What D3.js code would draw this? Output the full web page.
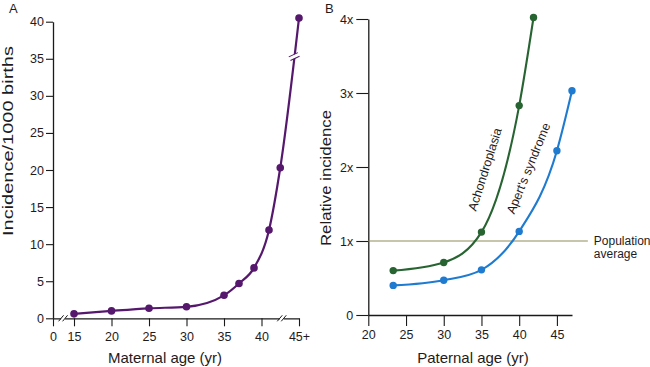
<!doctype html>
<html>
<head>
<meta charset="utf-8">
<script src="https://cdn.jsdelivr.net/npm/d3@7"></script>
<style>
  html, body { margin: 0; padding: 0; background: #fff; }
  svg { display: block; }
</style>
</head>
<body>
<script>
// Panel A: maternal age vs incidence / 1000 births
const maternalAges = [15, 20, 25, 30, 35, 37, 39, 41, 42.5, 45];
const maternalIncidence = [0.6, 1.0, 1.35, 1.55, 3.1, 4.7, 6.8, 11.9, 20.3, 40.5];
const maternalXTicks = [0, 15, 20, 25, 30, 35, 40, 45];
const maternalYTicks = [0, 5, 10, 15, 20, 25, 30, 35, 40];

// Panel B: paternal age vs relative incidence
const achondroplasiaAges = [23.3, 30, 35, 40, 41.9];
const achondroplasiaValues = [0.6, 0.71, 1.12, 2.83, 4.02];
const apertAges = [23.3, 30, 35, 40, 45, 47];
const apertValues = [0.4, 0.47, 0.61, 1.13, 2.22, 3.03];
const paternalXTicks = [20, 25, 30, 35, 40, 45];
const paternalYTicks = [0, 1, 2, 3, 4];
const populationAverage = 1;

const W = 650, H = 367;
const FONT = '"Liberation Sans", Arial, Helvetica, sans-serif';
const TEXT = "#1f1b1c";
const AXIS = "#1a1a1a";
const PURPLE = "#55186d";
const GREEN = "#276432";
const BLUE = "#1e7bd0";
const POP = "#8f8b58";

const svg = d3.select("body").append("svg")
  .attr("width", W)
  .attr("height", H)
  .style("font-family", FONT);

svg.append("rect").attr("width", W).attr("height", H).attr("fill", "#fff");

function styleAxis(g) {
  g.select(".domain").attr("stroke", AXIS).attr("stroke-width", 1.3);
  g.selectAll(".tick line").attr("stroke", AXIS).attr("stroke-width", 1.1);
  g.selectAll(".tick text").attr("fill", TEXT).attr("font-size", 12.5).attr("font-family", FONT);
}

// ---------- Panel A ----------
// 0 sits close to 15 (axis break), 45 stands for "45+"
const xA = d3.scaleLinear().domain([0, 15, 45]).range([53, 74, 299]);
const yA = d3.scaleLinear().domain([0, 40]).range([318.3, 21.7]);

const gA = svg.append("g");

gA.append("g")
  .attr("transform", `translate(${xA(0)},0)`)
  .call(d3.axisLeft(yA).tickValues(maternalYTicks).tickSize(7).tickPadding(2).tickSizeOuter(0))
  .call(styleAxis);

gA.append("g")
  .attr("transform", `translate(0,${yA(0)})`)
  .call(d3.axisBottom(xA).tickValues(maternalXTicks).tickSize(8).tickPadding(6).tickSizeOuter(0)
    .tickFormat((d) => (d === 45 ? "45+" : d)))
  .call(styleAxis);

// "//" marks on the x axis
const xBreaksA = [7.2, 42.7];
xBreaksA.forEach((v) => {
  const bx = xA(v), by = yA(0);
  gA.append("rect").attr("x", bx - 2).attr("y", by - 3).attr("width", 4).attr("height", 6).attr("fill", "#fff");
  [-2, 2].forEach((o) => {
    gA.append("line")
      .attr("x1", bx + o - 2.5).attr("y1", by + 3)
      .attr("x2", bx + o + 2.5).attr("y2", by - 3)
      .attr("stroke", AXIS).attr("stroke-width", 1);
  });
});

const dataA = maternalAges.map((a, i) => ({ x: a, y: maternalIncidence[i] }));

gA.append("path")
  .datum(dataA)
  .attr("fill", "none")
  .attr("stroke", PURPLE)
  .attr("stroke-width", 2.2)
  .attr("d", d3.line().x((d) => xA(d.x)).y((d) => yA(d.y)).curve(d3.curveMonotoneX));

// break on the curve near 35
{
  const p0 = dataA[dataA.length - 2], p1 = dataA[dataA.length - 1];
  const by = yA(35.3);
  const t = (yA(p0.y) - by) / (yA(p0.y) - yA(p1.y));
  const bx = xA(p0.x) + t * (xA(p1.x) - xA(p0.x));
  const gb = gA.append("g").attr("transform", `translate(${bx},${by}) rotate(-25)`);
  gb.append("rect").attr("x", -5).attr("y", -1.8).attr("width", 10).attr("height", 3.6).attr("fill", "#fff");
  [-2, 2].forEach((o) => {
    gb.append("line").attr("x1", -5).attr("x2", 5).attr("y1", o).attr("y2", o)
      .attr("stroke", PURPLE).attr("stroke-width", 1);
  });
}

gA.selectAll("circle")
  .data(dataA)
  .join("circle")
  .attr("cx", (d) => xA(d.x))
  .attr("cy", (d) => yA(d.y))
  .attr("r", 3.8)
  .attr("fill", PURPLE);

gA.append("text")
  .attr("x", 9).attr("y", 13)
  .attr("font-size", 13).attr("fill", TEXT)
  .text("A");

gA.append("text")
  .attr("transform", "translate(13,141) rotate(-90)")
  .attr("text-anchor", "middle")
  .attr("font-size", 15)
  .attr("textLength", 190)
  .attr("lengthAdjust", "spacingAndGlyphs")
  .attr("fill", TEXT)
  .text("Incidence/1000 births");

gA.append("text")
  .attr("x", 165).attr("y", 363)
  .attr("text-anchor", "middle")
  .attr("font-size", 15).attr("fill", TEXT)
  .text("Maternal age (yr)");

// ---------- Panel B ----------
const xB = d3.scaleLinear().domain([20, 47]).range([368.3, 572]);
const yB = d3.scaleLinear().domain([0, 4]).range([315, 19]);

const gB = svg.append("g");

gB.append("g")
  .attr("transform", `translate(${xB(20)},0)`)
  .call(d3.axisLeft(yB).tickValues(paternalYTicks).tickSize(12).tickPadding(3).tickSizeOuter(0)
    .tickFormat((d) => (d === 0 ? "0" : `${d}x`)))
  .call(styleAxis);

gB.append("g")
  .attr("transform", `translate(0,${yB(0)})`)
  .call(d3.axisBottom(xB).tickValues(paternalXTicks).tickSize(11).tickPadding(4).tickSizeOuter(0))
  .call(styleAxis);

// population average reference line
gB.append("line")
  .attr("x1", xB(20)).attr("x2", xB(49.1))
  .attr("y1", yB(populationAverage)).attr("y2", yB(populationAverage))
  .attr("stroke", POP).attr("stroke-width", 1.2);

gB.append("text")
  .attr("x", xB(49.1) + 6).attr("y", yB(populationAverage) + 4)
  .attr("font-size", 12).attr("fill", TEXT)
  .call((t) => {
    t.append("tspan").text("Population");
    t.append("tspan").attr("x", xB(49.1) + 6).attr("dy", 13).text("average");
  });

const seriesB = [
  { name: "Achondroplasia", color: GREEN, ages: achondroplasiaAges, values: achondroplasiaValues,
    label: { x: 484.8, y: 169.4, rot: -72.5 } },
  { name: "Apert's syndrome", color: BLUE, ages: apertAges, values: apertValues,
    label: { x: 528.3, y: 168.3, rot: -68 } },
];

const lineB = d3.line().x((d) => xB(d.x)).y((d) => yB(d.y)).curve(d3.curveMonotoneX);

seriesB.forEach((s) => {
  const pts = s.ages.map((a, i) => ({ x: a, y: s.values[i] }));
  gB.append("path")
    .datum(pts)
    .attr("fill", "none")
    .attr("stroke", s.color)
    .attr("stroke-width", 2.1)
    .attr("d", lineB);

  gB.append("g")
    .selectAll("circle")
    .data(pts)
    .join("circle")
    .attr("cx", (d) => xB(d.x))
    .attr("cy", (d) => yB(d.y))
    .attr("r", 3.7)
    .attr("fill", s.color);

  gB.append("text")
    .attr("transform", `translate(${s.label.x},${s.label.y}) rotate(${s.label.rot})`)
    .attr("text-anchor", "middle")
    .attr("dy", "0.35em")
    .attr("font-size", 12.5)
    .attr("fill", TEXT)
    .text(s.name);
});

gB.append("text")
  .attr("x", 325).attr("y", 13)
  .attr("font-size", 13).attr("fill", TEXT)
  .text("B");

gB.append("text")
  .attr("transform", "translate(331,178) rotate(-90)")
  .attr("text-anchor", "middle")
  .attr("font-size", 15)
  .attr("textLength", 136)
  .attr("lengthAdjust", "spacingAndGlyphs")
  .attr("fill", TEXT)
  .text("Relative incidence");

gB.append("text")
  .attr("x", 473).attr("y", 363)
  .attr("text-anchor", "middle")
  .attr("font-size", 15).attr("fill", TEXT)
  .text("Paternal age (yr)");
</script>
</body>
</html>
